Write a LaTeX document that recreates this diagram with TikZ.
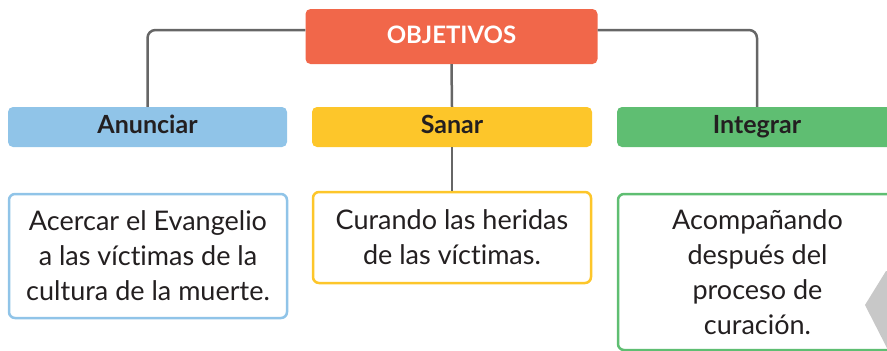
\documentclass[tikz,border=0pt]{standalone}
\usepackage{fontspec}
\setmainfont{Lato}[Ligatures={NoCommon}]
\usepackage{tikz}
\usetikzlibrary{calc}
\definecolor{objcol}{HTML}{F1674A}
\definecolor{anuncol}{HTML}{90C4E8}
\definecolor{sanacol}{HTML}{FDC62A}
\definecolor{integcol}{HTML}{5FBE72}
\definecolor{linecol}{HTML}{666666}
\definecolor{txtcol}{HTML}{231F20}
\definecolor{cornercol}{HTML}{C8C8C8}

\begin{document}
\begin{tikzpicture}[x=1pt,y=-1pt,
		head/.style={rectangle,rounded corners=5pt,inner sep=0pt,minimum height=40pt,minimum width=280pt,text height=18pt,text depth=5pt,text=txtcol,font=\fontsize{25}{28}\selectfont\bfseries},
		txt/.style={rectangle,rounded corners=6pt,line width=2.5pt,fill=white,inner sep=0pt,minimum width=278pt,align=center,text=txtcol,font=\fontsize{27}{35}\selectfont},
		conn/.style={draw=linecol,line width=2.5pt,rounded corners=8pt}]
		\useasboundingbox (0,0) rectangle (887,351);
		\clip (0,0) rectangle (887,351);
		\node (obj)   [head,fill=objcol,text=white,minimum width=292pt,minimum height=55pt,font=\fontsize{24}{28}\selectfont\bfseries] at (451.5,36.5) {OBJETIVOS};
		\node (anun)  [head,fill=anuncol,minimum width=279pt] at (147.5,127) {Anunciar};
		\node (sanar) [head,fill=sanacol] at (452,127) {Sanar};
		\node (integ) [head,fill=integcol] at (757,127) {Integrar};
		\node (tanun)  [txt,draw=anuncol,minimum height=124pt] at (148,256) {Acercar el Evangelio\\a las víctimas de la\\cultura de la muerte.};
		\node (tsanar) [txt,draw=sanacol,minimum height=91pt] at (452,237.5) {Curando las heridas\\de las víctimas.};
		\node (tinteg) [txt,draw=integcol,minimum width=279pt,minimum height=156pt] at (757.5,272) {Acompañando\\después del\\proceso de\\curación.};
		\draw [conn] ([yshift=6.5pt]obj.west) -| (anun.north);
		\draw [conn] ([yshift=6.5pt]obj.east) -| (integ.north);
		\draw [conn] (obj.south) -- (sanar.north);
		\draw [conn] (sanar.south) -- (tsanar.north);
		\fill [cornercol] (865,305) -- (886,271) -- (887,271) -- (887,348) -- cycle;
	\end{tikzpicture}
\end{document}
